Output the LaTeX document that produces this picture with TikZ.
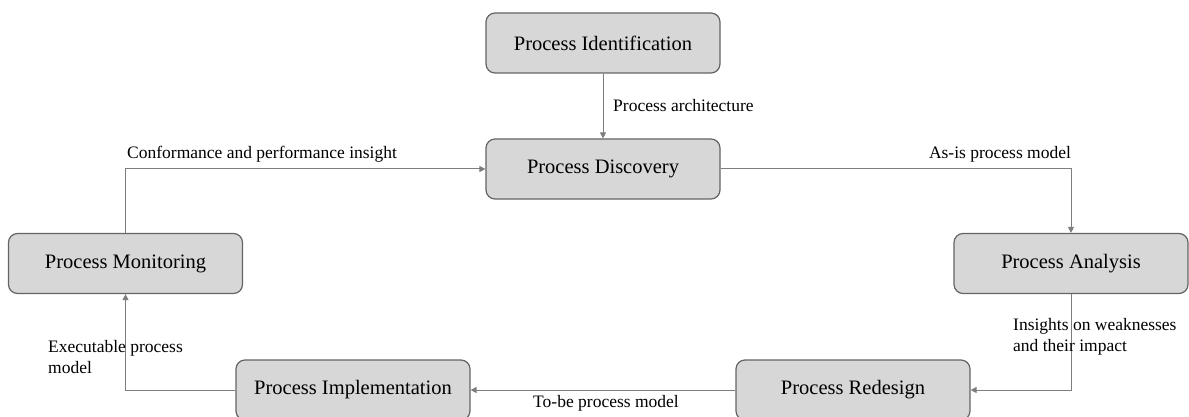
\documentclass[tikz,border=0pt]{standalone}
\usepackage{fontspec}
\setmainfont{Liberation Serif}
\usetikzlibrary{arrows.meta}
\definecolor{boxfill}{RGB}{215,215,215}
\definecolor{boxline}{RGB}{100,100,100}
\definecolor{conn}{RGB}{125,125,125}
\tikzset{
  stepbox/.style={draw=boxline, fill=boxfill, line width=1.2pt, rounded corners=9pt,
    minimum width=234pt, minimum height=60pt, font=\fontsize{20.5}{24}\selectfont, inner sep=0pt},
  link/.style={draw=conn, line width=1pt, -{Triangle[width=6pt,length=6pt]}},
  lbl/.style={font=\fontsize{17.5}{20.5}\selectfont, inner sep=0pt, align=left}
}
\begin{document}
\begin{tikzpicture}[x=1pt,y=-1pt]
\useasboundingbox (0,0) rectangle (1189,417);
\clip (0,0) rectangle (1189,417);
\node[stepbox] (id) at (603,43) {Process Identification};
\node[stepbox] (disc) at (603,169) {Process Discovery};
\node[stepbox] (mon) at (125.5,263.5) {Process Monitoring};
\node[stepbox] (ana) at (1071,263.5) {Process Analysis};
\node[stepbox] (red) at (853,390) {Process Redesign};
\node[stepbox] (impl) at (353,390) {Process Implementation};

\draw[link] (id) -- (disc);
\draw[link] (disc.east) -| (ana.north);
\draw[link] (ana.south) |- (red.east);
\draw[link] (red.west) -- (impl.east);
\draw[link] (impl.west) -| (mon.south);
\draw[link] (mon.north) |- (disc.west);

\node[lbl, anchor=west] (l1) at (613,106) {Process architecture};
\node[lbl] (l2) at (1000,154) {As-is process model};
\node[lbl, anchor=west] (l3) at (1013,337) {Insights on weaknesses\\and their impact};
\node[lbl] (l4) at (606,403) {To-be process model};
\node[lbl, anchor=west] (l5) at (48,357) {Executable process\\model};
\node[lbl, anchor=west] (l6) at (127,154) {Conformance and performance insight};
\end{tikzpicture}
\end{document}
